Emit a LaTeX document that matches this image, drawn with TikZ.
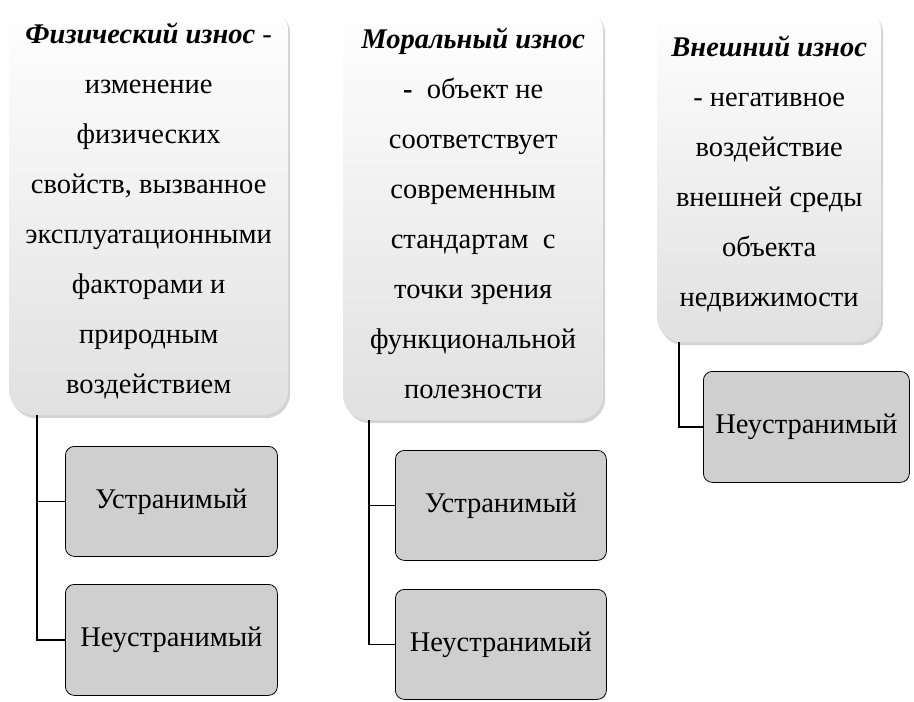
\documentclass[tikz,border=0pt]{standalone}
\usepackage{fontspec}
\setmainfont{Liberation Serif}
\usetikzlibrary{positioning, shadows}
\tikzstyle{wear} = [rectangle, rounded corners=25pt, anchor=north west, top color=white, bottom color=black!12, align=center, font=\rmfamily\fontsize{28.5}{50}\selectfont, drop shadow={shadow xshift=2pt, shadow yshift=-3pt, opacity=0.35}]
\tikzstyle{kind} = [rectangle, rounded corners=9pt, anchor=north west, fill=black!19, draw=black, line width=0.8pt, align=center, font=\rmfamily\fontsize{28.5}{34}\selectfont]
\tikzstyle{branch} = [line width=1.5pt, black]

\begin{document}
\begin{tikzpicture}[x=1pt, y=-1pt]
\useasboundingbox (0,0) rectangle (914,702);
\node (phys) [wear, minimum width=279pt, minimum height=409pt] at (9,6) {\textbf{\textit{Физический износ}} -\\изменение\\физических\\свойств, вызванное\\эксплуатационными\\факторами и\\природным\\воздействием};
\node (moral) [wear, minimum width=260pt, minimum height=414pt] at (343,6) {\textbf{\textit{Моральный износ}}\\\textbf{-}\ \ объект не\\соответствует\\современным\\стандартам\ \ с\\точки зрения\\функциональной\\полезности};
\node (ext) [wear, minimum width=224pt, minimum height=336pt] at (657,6) {\textbf{\textit{Внешний износ}}\\- негативное\\воздействие\\внешней среды\\объекта\\недвижимости};
\node (phys_fix) [kind, minimum width=212pt, minimum height=110pt] at (65,446) {Устранимый};
\node (phys_nofix) [kind, minimum width=212pt, minimum height=111pt] at (65,584) {Неустранимый};
\node (moral_fix) [kind, minimum width=211pt, minimum height=110pt] at (395,450) {Устранимый};
\node (moral_nofix) [kind, minimum width=211pt, minimum height=110pt] at (395,589) {Неустранимый};
\node (ext_nofix) [kind, minimum width=206pt, minimum height=111pt] at (703,371) {Неустранимый};
\draw [branch] ([xshift=28pt]phys.south west) |- (phys_fix.west);
\draw [branch] ([xshift=28pt]phys.south west) |- (phys_nofix.west);
\draw [branch] ([xshift=26pt]moral.south west) |- (moral_fix.west);
\draw [branch] ([xshift=26pt]moral.south west) |- (moral_nofix.west);
\draw [branch] ([xshift=22pt]ext.south west) |- (ext_nofix.west);
\end{tikzpicture}
\end{document}
